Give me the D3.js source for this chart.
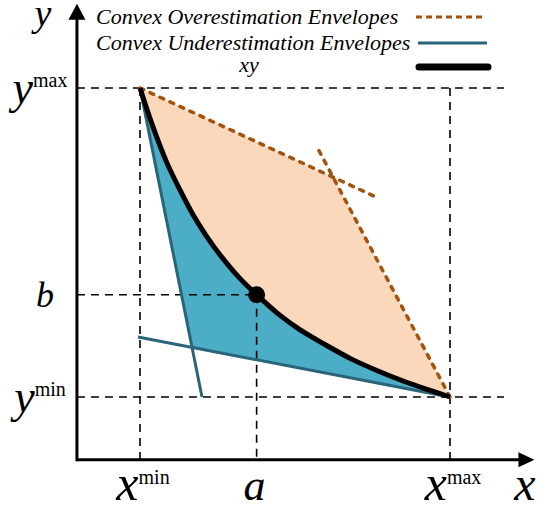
<!DOCTYPE html>
<html>
<head>
<meta charset="utf-8">
<script src="https://cdn.jsdelivr.net/npm/d3@7"></script>
<style>
  body { margin: 0; background: #fff; }
  svg { display: block; }
</style>
</head>
<body>
<svg id="chart" width="548" height="511"></svg>
<script>
// Box bounds and the marked point (a, b)
const xBounds = [1, 3.35];
const yBounds = [1, 3.35];
const pointA = 1.884;
const pointB = 1.778;

// xy = const curve
const curveX = [1, 1.1, 1.2, 1.3, 1.4, 1.5, 1.6, 1.75, 1.884, 2.05, 2.2, 2.4, 2.6, 2.8, 3.0, 3.2, 3.35];
const curveY = [3.35, 3.05, 2.79, 2.58, 2.39, 2.23, 2.09, 1.91, 1.778, 1.63, 1.52, 1.40, 1.29, 1.20, 1.12, 1.05, 1.0];

// Envelope lines (end points)
const underSteep = [[1, 3.35], [1.47, 1]];
const underShallow = [[0.985, 1.456], [3.35, 1]];
const overLeft = [[1, 3.35], [2.797, 2.517]];
const overRight = [[3.35, 1], [2.334, 2.916]];

// Legend labels
const legendLabels = ["Convex Overestimation Envelopes", "Convex Underestimation Envelopes", "xy"];

// Tick labels
const xTicks = [
  { value: xBounds[0], base: "x", sup: "min" },
  { value: pointA, base: "a", sup: "" },
  { value: xBounds[1], base: "x", sup: "max" }
];
const yTicks = [
  { value: yBounds[1], base: "y", sup: "max" },
  { value: pointB, base: "b", sup: "" },
  { value: yBounds[0], base: "y", sup: "min" }
];

const axisRange = [0.522, 3.99];
const FONT = '"Liberation Serif"';

const svg = d3.select("#chart");

const x = d3.scaleLinear().domain(xBounds).range([140, 450]);
const y = d3.scaleLinear().domain(yBounds).range([397, 88]);

const colors = {
  overFill: "#FBD8BB",
  underFill: "#4BADC6",
  underLine: "#2A6478",
  overLine: "#A4530F"
};

function intersect(l1, l2) {
  const [[x1, y1], [x2, y2]] = l1;
  const [[x3, y3], [x4, y4]] = l2;
  const d = (x1 - x2) * (y3 - y4) - (y1 - y2) * (x3 - x4);
  const t = ((x1 - x3) * (y3 - y4) - (y1 - y3) * (x3 - x4)) / d;
  return [x1 + t * (x2 - x1), y1 + t * (y2 - y1)];
}

const curvePts = curveX.map((d, i) => [d, curveY[i]]);
const curveLine = d3.line()
  .x(d => x(d[0]))
  .y(d => y(d[1]))
  .curve(d3.curveCatmullRom);
const straight = d3.line().x(d => x(d[0])).y(d => y(d[1]));

const overCorner = intersect(overLeft, overRight);
const underCorner = intersect(underSteep, underShallow);

// Over region: bottom-right -> curve back to top-left -> corner
const revCurve = curvePts.slice().reverse();
svg.append("path")
  .attr("d", curveLine(revCurve) + `L${x(overCorner[0])},${y(overCorner[1])}Z`)
  .attr("fill", colors.overFill);

// Under region: curve -> corner of the two lines -> back to top-left
svg.append("path")
  .attr("d", curveLine(curvePts) + `L${x(underCorner[0])},${y(underCorner[1])}Z`)
  .attr("fill", colors.underFill);

// Dashed guide lines
const guides = svg.append("g")
  .attr("stroke", "#000")
  .attr("stroke-width", 1.6)
  .attr("stroke-dasharray", "8,6")
  .attr("fill", "none");
const x0 = x(axisRange[0]);
const y0 = y(axisRange[0]);
guides.append("line").attr("x1", x0).attr("x2", 504).attr("y1", y(yBounds[1])).attr("y2", y(yBounds[1]));
guides.append("line").attr("x1", x0).attr("x2", 504).attr("y1", y(yBounds[0])).attr("y2", y(yBounds[0]));
guides.append("line").attr("x1", x0).attr("x2", x(pointA)).attr("y1", y(pointB)).attr("y2", y(pointB));
guides.append("line").attr("x1", x(xBounds[0])).attr("x2", x(xBounds[0])).attr("y1", y(yBounds[1])).attr("y2", y0);
guides.append("line").attr("x1", x(xBounds[1])).attr("x2", x(xBounds[1])).attr("y1", y(yBounds[1])).attr("y2", y0);
guides.append("line").attr("x1", x(pointA)).attr("x2", x(pointA)).attr("y1", y(pointB)).attr("y2", y0);

// Underestimation envelopes
[underSteep, underShallow].forEach(l => {
  svg.append("path")
    .attr("d", straight(l))
    .attr("stroke", colors.underLine)
    .attr("stroke-width", 3)
    .attr("fill", "none");
});

// Overestimation envelopes
[overLeft, overRight].forEach(l => {
  svg.append("path")
    .attr("d", straight(l))
    .attr("stroke", colors.overLine)
    .attr("stroke-width", 3.5)
    .attr("stroke-dasharray", "4,7")
    .attr("stroke-linecap", "round")
    .attr("fill", "none");
});

// xy curve
svg.append("path")
  .attr("d", curveLine(curvePts))
  .attr("stroke", "#000")
  .attr("stroke-width", 5)
  .attr("fill", "none");

svg.append("circle")
  .attr("cx", x(pointA))
  .attr("cy", y(pointB))
  .attr("r", 8.5)
  .attr("fill", "#000");

// Axes with arrows
const xEnd = x(axisRange[1]);
const yEnd = y(axisRange[1]);
svg.append("line").attr("x1", x0).attr("x2", xEnd - 14).attr("y1", y0).attr("y2", y0)
  .attr("stroke", "#000").attr("stroke-width", 3);
svg.append("line").attr("x1", x0).attr("x2", x0).attr("y1", y0 + 1.5).attr("y2", yEnd + 14)
  .attr("stroke", "#000").attr("stroke-width", 3);
svg.append("path")
  .attr("d", `M${xEnd},${y0}L${xEnd - 16},${y0 - 7.5}L${xEnd - 16},${y0 + 7.5}Z`)
  .attr("fill", "#000");
svg.append("path")
  .attr("d", `M${x0},${yEnd}L${x0 - 8.5},${yEnd + 16}L${x0 + 8.5},${yEnd + 16}Z`)
  .attr("fill", "#000");

function addText(parent) {
  return parent.append("text").attr("font-family", FONT).attr("fill", "#000");
}

// Axis titles
addText(svg).attr("x", 525).attr("y", 500)
  .attr("text-anchor", "middle").attr("font-style", "italic").attr("font-size", 48).text("x");
addText(svg).attr("x", 43).attr("y", 26)
  .attr("text-anchor", "middle").attr("font-style", "italic").attr("font-size", 38).text("y");

// Tick labels
xTicks.forEach(t => {
  const txt = addText(svg)
    .attr("x", x(t.value) + (t.sup ? 3 : -2))
    .attr("y", 500)
    .attr("text-anchor", "middle");
  txt.append("tspan").attr("font-style", "italic").attr("font-size", t.sup ? 50 : 44).text(t.base);
  if (t.sup) txt.append("tspan").attr("font-size", 20).attr("dy", -16).text(t.sup);
});
yTicks.forEach(t => {
  const txt = addText(svg)
    .attr("x", t.sup ? 40 : 45)
    .attr("y", y(t.value) + (t.sup ? 15 : 12))
    .attr("text-anchor", "middle");
  txt.append("tspan").attr("font-style", "italic").attr("font-size", t.sup ? 46 : 36).text(t.base);
  if (t.sup) txt.append("tspan").attr("font-size", 20).attr("dy", -16).text(t.sup);
});

// Legend
const legend = svg.append("g");
addText(legend).attr("x", 96).attr("y", 24).attr("font-style", "italic").attr("font-size", 22).text(legendLabels[0]);
addText(legend).attr("x", 96).attr("y", 50).attr("font-style", "italic").attr("font-size", 22).text(legendLabels[1]);
addText(legend).attr("x", 249).attr("y", 72).attr("text-anchor", "middle").attr("font-style", "italic").attr("font-size", 22).text(legendLabels[2]);

legend.append("line").attr("x1", 416).attr("x2", 483).attr("y1", 17).attr("y2", 17)
  .attr("stroke", colors.overLine).attr("stroke-width", 3).attr("stroke-dasharray", "6,4");
legend.append("line").attr("x1", 418).attr("x2", 487).attr("y1", 43).attr("y2", 43)
  .attr("stroke", colors.underLine).attr("stroke-width", 3);
legend.append("line").attr("x1", 419).attr("x2", 488).attr("y1", 67).attr("y2", 67)
  .attr("stroke", "#000").attr("stroke-width", 7).attr("stroke-linecap", "round");
</script>
</body>
</html>
